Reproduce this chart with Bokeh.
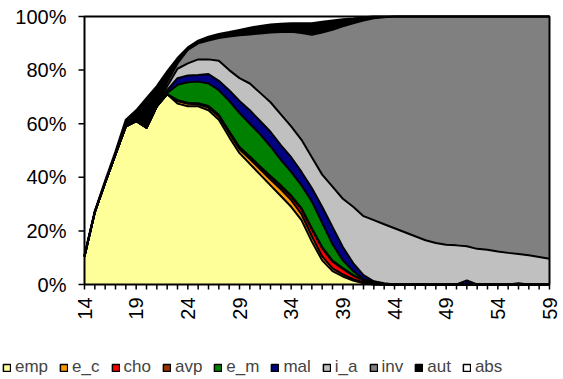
from math import pi
from bokeh.plotting import figure
from bokeh.core.properties import value
from bokeh.models import ColumnDataSource, Legend, LegendItem, Range1d
from bokeh.embed import file_html
from bokeh.resources import INLINE

ages = list(range(14, 60))
tick_ages = [14, 19, 24, 29, 34, 39, 44, 49, 54, 59]
tick_labels = ["14", "19", "24", "29", "34", "39", "44", "49", "54", "59"]
y_ticks = [0, 20, 40, 60, 80, 100]
y_labels = ["0%", "20%", "40%", "60%", "80%", "100%"]

emp = [10.5, 27, 38, 48.5, 59, 61, 58.5, 66.5, 71, 67.5, 66.5, 66.5, 65, 61.5, 55, 49, 45, 41, 37, 33,
       29, 24, 16, 9, 5, 3, 1.5, 0.5] + [0] * 18
e_c = [0] * 9 + [1, 1, 0.8, 1, 1.2, 1.5, 1.5, 1.8, 2, 2.2, 2.5, 2.5, 2.2, 2, 1.5, 1, 0.8, 0.5, 0.3] + [0] * 18
cho = [0] * 12 + [0.2, 0.2, 0.3, 0.3, 0.5, 0.5, 0.8, 1, 1.2, 1.8, 2.5, 3, 2.5, 2, 1.3, 0.7, 0.3] + [0] * 17
avp = [0] * 9 + [0.3, 0.3, 0.3, 0.4, 0.4, 0.4, 0.5, 0.5, 0.5, 0.5, 0.5, 0.5, 0.5, 0.5, 0.5, 0.4, 0.3, 0.2, 0.1] + [0] * 18
e_m = [0] * 8 + [0.5, 5.7, 7.7, 8.1, 8.4, 9.2, 11.3, 12.7, 12.2, 12, 11, 9.5, 8.8, 8.5, 10, 9, 6.1, 2.9,
                 1.5, 0.4, 0.5, 0.2] + [0] * 16
mal = [0] * 8 + [1, 2.5, 2.5, 2.5, 3.5, 3.5, 4, 4.5, 5, 5, 5.5, 5.5, 5.5, 5, 5, 6, 6.5, 5, 3, 1.5, 0.4,
                 0.3] + [0] * 7 + [1.5] + [0] * 4 + [0.5] + [0] * 3
i_a = [0] * 8 + [1.5, 3.5, 4.5, 5.8, 5.5, 7.5, 7.5, 8.5, 10, 10.5, 11, 11.5, 11.5, 12, 11.5, 12, 15, 18,
                 21, 22, 22.8, 22, 21, 19.5, 18, 16.5, 15.5, 14.8, 14.6, 12.8, 13.3, 13, 12.3, 11.8,
                 10.9, 10.9, 10.3, 9.6]
inv = [0] * 8 + [1.5, 2, 5, 6, 7, 8.5, 12.5, 16, 18.3, 22.2, 26, 30.7, 35.3, 39.8, 45.7, 53, 58.5, 64.3,
                 68.5, 73, 75.3, 77.2, 79, 80.5, 82, 83.5, 84.5, 85.2, 85.4, 85.7, 86.7, 87, 87.7, 88.2,
                 88.6, 89.1, 89.7, 90.4]
aut = [0.5, 0.5, 0.8, 1.2, 2.5, 4, 11, 7.5, 4, 2, 1, 1, 1.5, 1.5, 1.7, 2, 2.5, 2.8, 3, 3.1, 3.2, 3.7,
       4.3, 4, 3.5, 2.7, 1.8, 1.2, 0.7, 0.3] + [0] * 16
abs_ = [89, 72.5, 61.2, 50.3, 38.5, 35, 30.5, 26, 20.5, 15.5, 11.5, 9, 7.5, 6.5, 5.8, 5, 4.2, 3.5, 3, 2.7,
        2.5, 2.5, 2.5, 2, 1.5, 1, 0.7, 0.3, 0, 0] + [0] * 16

names = ["emp", "e_c", "cho", "avp", "e_m", "mal", "i_a", "inv", "aut", "abs"]
colors = ["#FFFF99", "#FF9900", "#FF0000", "#993300", "#008000", "#000080",
          "#C0C0C0", "#808080", "#000000", "#FFFFFF"]

src = ColumnDataSource(dict(age=ages, emp=emp, e_c=e_c, cho=cho, avp=avp, e_m=e_m, mal=mal,
                            i_a=i_a, inv=inv, aut=aut, abs=abs_))

FONT = "Liberation Sans"

# page layout (pixels): plot box spans x 84..549, y 16..284 inside a 563 x 379 canvas
W, H = 563, 379
BOX_L, BOX_R, BOX_T, BOX_B = 84, 549, 16, 284
xmin, xmax = ages[0], ages[-1]
ymin, ymax = y_ticks[0], y_ticks[-1]
ux = (xmax - xmin) / (BOX_R - BOX_L)      # data units per pixel (x)
uy = (ymax - ymin) / (BOX_B - BOX_T)      # data units per pixel (y)
x_range = Range1d(xmin - BOX_L * ux, xmax + (W - BOX_R) * ux)
y_range = Range1d(ymin - (H - BOX_B) * uy, ymax + BOX_T * uy)

p = figure(width=W, height=H, output_backend="svg", toolbar_location=None,
           x_range=x_range, y_range=y_range, min_border=0,
           x_axis_type=None, y_axis_type=None)
p.outline_line_color = None
p.grid.visible = False
p.background_fill_color = "white"
p.border_fill_color = "white"

p.varea_stack(stackers=names, x="age", color=colors, source=src)
p.vline_stack(stackers=names[:9], x="age", color="black", line_width=2, line_join="round", source=src)

# plot box
p.quad(left=[xmin], right=[xmax], bottom=[ymin], top=[ymax], fill_color=None,
       line_color="black", line_width=2)

# y axis ticks and labels
p.segment(x0=[xmin - 6 * ux] * len(y_ticks), x1=[xmin] * len(y_ticks), y0=y_ticks, y1=y_ticks,
          line_color="black", line_width=1.5)
p.text(x=[xmin] * len(y_ticks), y=y_ticks, text=y_labels, x_offset=-18,
       text_align="right", text_baseline="middle", text_font=value(FONT),
       text_font_size="20px", text_color="black")

# x axis ticks (every year) and labels (every five years)
p.segment(x0=ages, x1=ages, y0=[ymin] * len(ages), y1=[ymin - 5 * uy] * len(ages),
          line_color="black", line_width=1.5)
p.text(x=tick_ages, y=[ymin] * len(tick_ages), text=tick_labels, angle=pi / 2, y_offset=13,
       text_align="right", text_baseline="middle", text_font=value(FONT),
       text_font_size="20px", text_color="black")

# legend swatches: renderers whose single box lies outside the visible ranges
items = []
for n, c in zip(names, colors):
    r = p.quad(left=[xmin - 100], right=[xmin - 99], top=[ymin - 100], bottom=[ymin - 101],
               fill_color=c, line_color="black", line_width=1.5)
    items.append(LegendItem(label=n, renderers=[r]))

leg = Legend(items=items, orientation="horizontal", location=(2, 2),
             glyph_width=9, glyph_height=9, label_standoff=4, spacing=11,
             padding=0, margin=0, border_line_color=None, background_fill_alpha=0,
             label_text_font=FONT, label_text_font_size="17px", label_height=9)
p.add_layout(leg)

open("out.html", "w").write(file_html(p, INLINE))
